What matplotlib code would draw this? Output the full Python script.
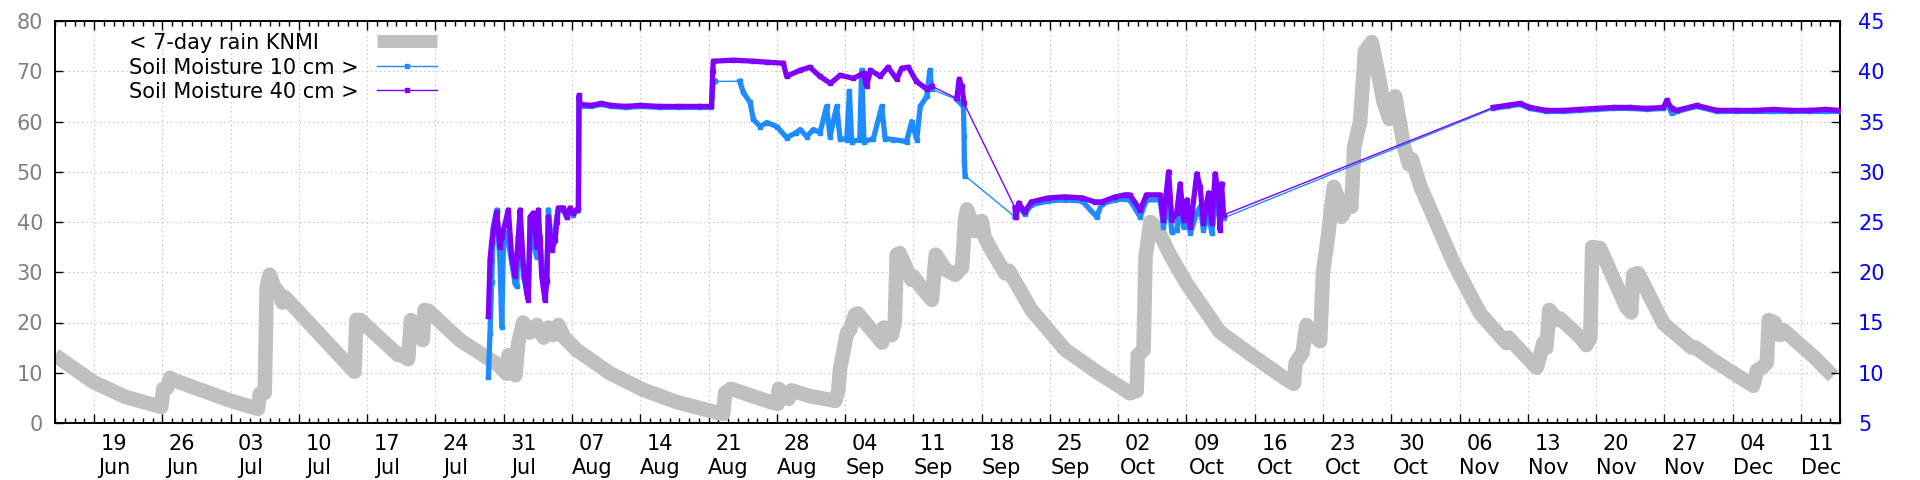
import numpy as np
import matplotlib
matplotlib.use("Agg")
import matplotlib.pyplot as plt
import matplotlib.transforms as mtransforms
from matplotlib.ticker import MultipleLocator, FixedLocator

# x axis: days after 15 Jun
week_days = list(range(4, 180, 7))
week_labels = ["19\nJun", "26\nJun", "03\nJul", "10\nJul", "17\nJul", "24\nJul", "31\nJul",
               "07\nAug", "14\nAug", "21\nAug", "28\nAug", "04\nSep", "11\nSep", "18\nSep",
               "25\nSep", "02\nOct", "09\nOct", "16\nOct", "23\nOct", "30\nOct", "06\nNov",
               "13\nNov", "20\nNov", "27\nNov", "04\nDec", "11\nDec"]

# 7-day rain sum (mm, left axis)
rain_day = [0, 3.9, 7.2, 10.9, 11.1, 11.5, 11.8, 12.1, 17.9, 20.8, 21.0, 21.5, 21.7, 22.0,
            22.5, 23.0, 23.3, 23.6, 30.4, 30.7, 30.9, 31.3, 35.2, 35.5, 36.2, 36.5, 37.4,
            37.7, 37.9, 38.3, 41.5, 43.9, 45.5, 46.3, 46.5, 47.0, 47.2, 47.5, 48.0, 48.7,
            49.4, 50.1, 50.6, 51.1, 51.6, 52.2, 53.5, 56.9, 60.3, 63.7, 67.2, 68.5, 68.7,
            69.3, 73.3, 74.1, 74.2, 75.2, 75.5, 77.3, 80.0, 80.3, 80.5, 81.2, 81.5, 82.0,
            82.3, 84.8, 85.0, 85.8, 86.1, 86.3, 86.6, 87.8, 88.0, 88.8, 89.9, 90.3, 91.3,
            92.3, 93.0, 93.3, 93.5, 94.3, 95.0, 95.3, 96.0, 97.4, 97.8, 100.1, 103.6, 104.0,
            107.0, 109.7, 110.2, 110.9, 111.0, 111.6, 111.8, 112.3, 112.6, 113.3, 114.3,
            116.0, 119.4, 120.0, 122.9, 126.3, 127.0, 127.2, 127.9, 128.3, 129.0, 129.7,
            130.0, 130.5, 131.1, 131.5, 131.9, 132.6, 132.9, 133.2, 133.8, 134.3, 135.0,
            135.4, 136.2, 136.8, 137.4, 138.3, 138.8, 139.1, 140.0, 143.4, 146.1, 148.8,
            149.0, 151.9, 152.2, 152.6, 152.9, 153.2, 154.0, 154.3, 156.4, 157.0, 157.4,
            157.6, 158.4, 161.1, 161.6, 161.8, 162.3, 164.9, 167.8, 168.2, 170.0, 174.1,
            174.5, 175.0, 175.5, 175.7, 176.3, 176.8, 177.2, 180.3, 182.3]
rain_mm = [13.5, 8.2, 5.2, 3.2, 6.8, 7.0, 9.0, 8.6, 4.5, 2.8, 5.8, 6.0, 27.0, 29.5,
           27.0, 25.8, 24.0, 25.0, 10.8, 10.2, 20.5, 20.5, 13.5, 13.6, 12.7, 20.5, 18.3,
           16.5, 22.5, 22.3, 16.5, 13.5, 11.5, 9.8, 13.5, 12.0, 9.5, 16.0, 20.0, 18.0,
           19.5, 17.0, 19.0, 17.5, 19.5, 17.0, 14.5, 9.9, 6.6, 4.2, 2.4, 1.8, 6.0,
           6.8, 4.2, 3.8, 6.8, 4.8, 6.5, 5.4, 4.4, 6.5, 11.0, 18.0, 18.5, 21.5,
           21.8, 16.0, 19.0, 17.5, 20.0, 33.5, 33.8, 28.5, 29.2, 27.0, 24.5, 33.5, 30.5,
           29.5, 31.0, 40.5, 42.5, 38.2, 40.2, 37.0, 34.4, 29.8, 30.3, 22.5, 14.5, 14.0,
           9.9, 6.6, 5.9, 6.4, 13.5, 14.5, 33.0, 40.0, 39.5, 37.5, 33.5,
           27.8, 18.2, 17.3, 13.2, 8.6, 7.8, 12.0, 14.0, 19.5, 17.5, 16.3,
           30.0, 37.0, 47.0, 45.0, 41.0, 43.5, 43.0, 55.0, 60.0, 74.0, 75.8,
           72.0, 64.0, 60.5, 65.0, 55.0, 51.5, 52.5, 47.0, 31.8, 21.8, 15.9,
           17.0, 11.0, 13.0, 16.0, 15.0, 22.5, 20.5, 20.8, 17.0, 15.5, 17.0,
           35.0, 34.8, 23.0, 22.0, 29.5, 29.8, 19.8, 15.0, 15.0, 12.5, 7.4,
           10.5, 11.0, 12.0, 20.5, 20.0, 17.5, 18.5, 13.2, 9.3]

# soil moisture (right axis)
sm40_day = [44.43, 44.60, 44.77, 44.94, 45.28, 45.63, 45.80, 45.97, 46.31, 46.48, 46.82,
            47.16, 47.33, 47.51, 47.68, 48.02, 48.36, 48.53, 48.70, 49.04, 49.39, 49.56,
            49.73, 49.90, 50.24, 50.41, 50.58, 50.92, 51.27, 51.44, 51.61, 52.12, 52.46,
            52.80, 53.14, 53.49, 53.66, 53.72, 53.85, 55.0, 56.0, 57.0, 58.5, 60.0, 62.0,
            64.0, 66.0, 67.3, 67.38, 67.42, 67.5, 69.55, 71.6, 72.97, 74.67, 75.0, 76.4,
            77.4, 78.4, 79.5, 80.5, 81.85, 82.9, 83.2, 83.6, 84.6, 85.4, 86.3, 86.8, 87.5,
            88.3, 89.4, 89.9, 92.45, 92.7, 92.96, 93.2, 98.43, 98.5, 98.8, 99.4, 100.1,
            101.85, 103.5, 105.3, 106.6, 107.3, 108.7, 109.7, 110.2, 111.25, 111.9, 113.3,
            113.64, 114.16, 114.5, 115.0, 115.35, 115.7, 116.04, 116.4, 117.06, 117.4,
            117.74, 118.26, 118.6, 118.94, 119.28, 119.45, 119.6, 119.8, 147.47, 148.83,
            150.2, 151.2, 152.9, 154.6, 156.35, 158.0, 159.8, 161.5, 163.2, 164.9, 165.24,
            165.75, 166.26, 168.3, 170.4, 172.3, 174.2, 176.1, 178.0, 179.8, 181.5, 183.0]
sm40 = [15.6, 21.2, 23.0, 24.2, 26.0, 22.5, 23.5, 24.2, 25.5, 26.2, 21.5,
        19.6, 21.5, 23.5, 26.2, 20.6, 17.9, 17.2, 25.5, 25.9, 22.5, 26.2,
        23.0, 19.6, 17.2, 19.2, 25.5, 22.2, 23.2, 25.0, 26.4, 26.4, 25.5,
        26.4, 25.9, 26.2, 26.4, 37.6, 36.7, 36.6, 36.8, 36.6, 36.5, 36.6, 36.5,
        36.5, 36.5, 36.5, 38.3, 40.0, 41.0, 41.1, 41.0, 40.9, 40.8, 39.5, 40.1,
        40.4, 39.5, 38.8, 39.6, 39.3, 39.8, 38.5, 40.1, 39.5, 40.4, 39.2, 40.3, 40.4,
        39.0, 38.2, 38.5, 37.3, 39.2, 38.5, 36.8, 26.4, 25.5, 26.9, 26.0, 27.0,
        27.4, 27.5, 27.4, 27.0, 27.0, 27.5, 27.7, 27.7, 26.2, 27.7, 27.7,
        25.2, 30.0, 25.2, 25.9, 28.8, 25.2, 27.2, 24.5, 29.8, 28.5,
        24.9, 27.9, 24.9, 29.8, 27.9, 24.2, 28.8, 25.7, 36.4, 36.6,
        36.8, 36.4, 36.1, 36.1, 36.2, 36.3, 36.4, 36.4, 36.3, 36.4, 37.1,
        36.3, 36.1, 36.6, 36.1, 36.1, 36.1, 36.2, 36.1, 36.1, 36.2, 36.1]

sm10_day = [44.43, 44.60, 44.77, 44.94, 45.28, 45.63, 45.80, 45.97, 46.31, 46.48, 46.82,
            47.16, 47.33, 47.51, 47.68, 48.02, 48.36, 48.53, 48.70, 49.04, 49.39, 49.56,
            49.73, 49.90, 50.24, 50.41, 50.58, 50.92, 51.27, 51.44, 51.61, 52.12, 52.46,
            52.80, 53.14, 53.49, 53.66, 53.72, 53.85, 55.0, 56.0, 57.0, 58.5, 60.0, 62.0,
            64.0, 66.0, 67.3, 67.36, 67.45, 67.67, 70.2, 70.57, 71.26, 71.6, 72.3, 72.97,
            74.0, 75.0, 76.0, 76.4, 77.07, 77.75, 78.43, 79.1, 79.46, 80.14, 80.48, 81.17,
            81.44, 81.68, 82.5, 82.7, 82.94, 83.9, 84.76, 85.1, 85.95, 87.3, 87.83, 88.35,
            88.7, 89.37, 89.7, 89.88, 92.45, 93.13, 93.2, 93.23, 93.3, 98.43, 98.8, 99.4,
            100.1, 101.85, 103.5, 105.3, 106.8, 107.3, 108.7, 109.7, 110.2, 111.25, 111.9,
            113.3, 113.64, 114.16, 114.5, 115.0, 115.35, 115.7, 116.04, 116.4, 117.06,
            117.4, 117.74, 118.26, 118.6, 118.94, 119.28, 119.45, 119.6, 119.8, 147.47,
            148.83, 150.2, 151.2, 152.9, 154.6, 156.35, 158.0, 159.8, 161.5, 163.2, 164.9,
            165.24, 165.75, 166.26, 168.3, 170.4, 172.3, 174.2, 176.1, 178.0, 179.8, 181.5,
            183.0]
sm10 = [9.6, 14.0, 19.0, 24.5, 26.2, 20.9, 14.6, 22.5, 23.9, 23.0, 21.0,
        18.9, 18.6, 23.5, 25.5, 19.6, 18.2, 18.5, 23.9, 22.9, 21.5, 23.0,
        23.5, 20.6, 17.6, 19.0, 26.2, 22.5, 24.0, 25.5, 26.3, 26.2, 25.5,
        26.2, 25.7, 26.2, 26.2, 37.3, 36.5, 36.5, 36.7, 36.5, 36.4, 36.5, 36.4,
        36.4, 36.4, 36.4, 37.5, 38.9, 39.0, 39.0, 37.9, 36.9, 35.2, 34.5, 34.9,
        34.5, 33.4, 33.9, 34.2, 33.5, 34.2, 33.9, 36.5, 33.5, 36.5, 33.3, 33.2,
        38.0, 33.0, 33.2, 40.1, 33.0, 33.3, 36.5, 33.3, 33.2, 33.0, 35.0, 33.2,
        36.5, 37.5, 40.1, 38.2, 37.2, 36.5, 33.6, 31.0, 29.6, 25.5, 26.6, 25.8,
        26.7, 27.1, 27.2, 27.1, 25.5, 26.8, 27.2, 27.3, 27.2, 25.5, 27.2,
        27.2, 24.5, 27.2, 24.0, 24.2, 26.5, 24.5, 26.2, 23.9, 25.9,
        26.5, 24.2, 25.9, 23.9, 27.0, 26.5, 24.5, 27.2, 25.4, 36.3,
        36.5, 36.7, 36.3, 36.0, 36.0, 36.1, 36.2, 36.3, 36.3, 36.2, 36.3,
        36.9, 35.8, 36.0, 36.5, 36.0, 36.0, 36.0, 36.0, 36.0, 36.0, 36.0,
        36.0]

RAIN_C = "#c0c0c0"
C10 = "#1e8cff"
C40 = "#8000ff"

fig = plt.figure(figsize=(19.2, 4.8), dpi=100)
ax = fig.add_axes([55 / 1920, 57 / 480, 1785 / 1920, 402 / 480])
ax2 = ax.twinx()

ax.plot(rain_day, rain_mm, color=RAIN_C, lw=10.5, solid_capstyle="butt", zorder=2)


def draw_soil(a, days, vals, color, z):
    days = np.asarray(days)
    vals = np.asarray(vals)
    a.plot(days, vals, color=color, lw=1.0, zorder=z)
    breaks = np.where(np.diff(days) > 2.4)[0] + 1
    for d, v in zip(np.split(days, breaks), np.split(vals, breaks)):
        a.plot(d, v, color=color, lw=3.8, zorder=z)
    a.plot(days, vals, "s", color=color, ms=3.5, zorder=z)


draw_soil(ax2, sm10_day, sm10, C10, 3)
draw_soil(ax2, sm40_day, sm40, C40, 4)

ax.set_xlim(0, 183)
ax.set_ylim(0, 80)
ax2.set_ylim(5, 45)

ax.xaxis.set_major_locator(FixedLocator(week_days))
ax.xaxis.set_minor_locator(MultipleLocator(1))
ax.set_xticklabels(week_labels)
ax.yaxis.set_major_locator(MultipleLocator(10))
ax2.yaxis.set_major_locator(MultipleLocator(5))

ax.tick_params(axis="x", which="major", direction="in", length=6.5, width=1, top=True,
               labelsize=15, pad=8)
ax.tick_params(axis="x", which="minor", direction="in", length=3.6, width=1, top=True)
ax.tick_params(axis="y", direction="in", length=5.8, width=1, labelsize=15,
               labelcolor="#808080", pad=8.6, right=False)
ax2.tick_params(axis="y", direction="in", length=6.2, width=1, labelsize=15,
                labelcolor="#0000ff", pad=13)

# labels sit a little right of their week line
shift = mtransforms.ScaledTranslation(0.2, 0, fig.dpi_scale_trans)
for lab in ax.get_xticklabels():
    lab.set_transform(lab.get_transform() + shift)
    lab.set_linespacing(1.25)

ax.grid(True, which="major", color="#b4b4b4", linestyle=(0, (1, 3)), lw=0.8)
for sp in list(ax.spines.values()) + list(ax2.spines.values()):
    sp.set_linewidth(1.2)

# legend, gnuplot style: text first, sample after
lx = (129 - 55) / 1785
sx0, sx1 = (377 - 55) / 1785, (437 - 55) / 1785
rows = [("< 7-day rain KNMI", 49, 40.5), ("Soil Moisture 10 cm >", 73.5, 65.7),
        ("Soil Moisture 40 cm >", 97.5, 90)]
for i, (txt, base_px, line_px) in enumerate(rows):
    ax2.text(lx, (423 - base_px) / 402, txt, transform=ax2.transAxes, fontsize=15,
             va="baseline", ha="left")
    ly = (423 - line_px) / 402
    if i == 0:
        ax2.plot([sx0, sx1], [ly, ly], transform=ax2.transAxes, color=RAIN_C, lw=9.3,
                 solid_capstyle="butt", clip_on=False)
    else:
        c = C10 if i == 1 else C40
        ax2.plot([sx0, sx1], [ly, ly], transform=ax2.transAxes, color=c, lw=1.0,
                 clip_on=False)
        ax2.plot([(sx0 + sx1) / 2], [ly], "s", transform=ax2.transAxes, color=c, ms=3.5,
                 clip_on=False)

fig.savefig("out.png", dpi=100)
